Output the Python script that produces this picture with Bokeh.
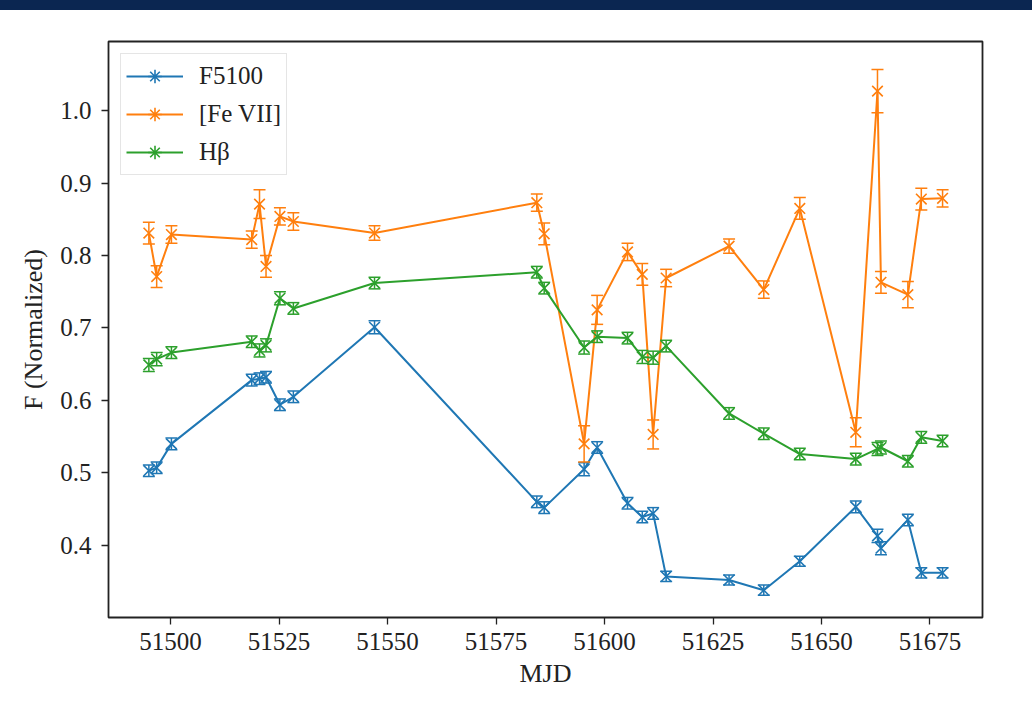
from bokeh.plotting import figure
from bokeh.models import (ColumnDataSource, FixedTicker, PrintfTickFormatter, Legend,
                          LegendItem, Div, Range1d)
from bokeh.layouts import column
from bokeh.embed import file_html
from bokeh.resources import INLINE

# ---- data ----
mjd = [51495.0, 51496.8, 51500.2, 51518.7, 51520.5, 51522.0, 51525.2, 51528.3, 51547.0,
       51584.4, 51586.1, 51595.3, 51598.3, 51605.3, 51608.7, 51611.2, 51614.2, 51628.7,
       51636.7, 51645.0, 51657.9, 51662.9, 51663.7, 51669.9, 51673.0, 51677.9]
f5100 = [0.503, 0.507, 0.540, 0.628, 0.630, 0.632, 0.594, 0.605, 0.701,
         0.460, 0.452, 0.505, 0.535, 0.458, 0.439, 0.444, 0.357, 0.352,
         0.338, 0.378, 0.453, 0.413, 0.396, 0.435, 0.362, 0.362]
f5100_err = [0.008, 0.008, 0.008, 0.008, 0.008, 0.008, 0.008, 0.008, 0.009,
             0.008, 0.008, 0.009, 0.008, 0.008, 0.008, 0.008, 0.007, 0.007,
             0.007, 0.007, 0.008, 0.009, 0.009, 0.008, 0.007, 0.007]
fe7 = [0.831, 0.771, 0.829, 0.822, 0.871, 0.785, 0.854, 0.847, 0.831,
       0.873, 0.830, 0.540, 0.725, 0.805, 0.774, 0.553, 0.769, 0.813,
       0.753, 0.865, 0.556, 1.027, 0.763, 0.746, 0.878, 0.879]
fe7_err = [0.015, 0.015, 0.012, 0.012, 0.020, 0.015, 0.012, 0.012, 0.010,
           0.012, 0.015, 0.025, 0.020, 0.012, 0.015, 0.020, 0.012, 0.010,
           0.012, 0.015, 0.020, 0.030, 0.015, 0.018, 0.015, 0.012]
hbeta = [0.649, 0.657, 0.666, 0.681, 0.669, 0.676, 0.741, 0.727, 0.762,
         0.777, 0.755, 0.673, 0.688, 0.686, 0.660, 0.659, 0.675, 0.582,
         0.554, 0.526, 0.519, 0.533, 0.535, 0.516, 0.549, 0.544]
hbeta_err = [0.009, 0.009, 0.008, 0.008, 0.009, 0.009, 0.009, 0.008, 0.008,
             0.008, 0.008, 0.009, 0.008, 0.008, 0.009, 0.009, 0.008, 0.008,
             0.008, 0.008, 0.008, 0.009, 0.009, 0.008, 0.008, 0.008]

series = [("F5100", f5100, f5100_err, "#1f77b4"),
          ("[Fe VII]", fe7, fe7_err, "#ff7f0e"),
          ("H\u03b2", hbeta, hbeta_err, "#2ca02c")]

x_ticks = [51500, 51525, 51550, 51575, 51600, 51625, 51650, 51675]
y_ticks = [0.4, 0.5, 0.6, 0.7, 0.8, 0.9, 1.0]

FONT = "Liberation Serif"

p = figure(width=1032, height=718, output_backend="svg", toolbar_location=None,
           x_range=Range1d(51485.7, 51687.1), y_range=Range1d(0.3003, 1.0955),
           min_border_left=108, min_border_right=50, min_border_top=31, min_border_bottom=111)
p.background_fill_color = "white"
p.border_fill_color = "white"
p.grid.visible = False
p.outline_line_color = "#222222"
p.outline_line_width = 1.8

for ax in (p.xaxis[0], p.yaxis[0]):
    ax.axis_line_color = None
    ax.major_tick_in = 0
    ax.major_tick_out = 7
    ax.major_tick_line_color = "#222222"
    ax.major_tick_line_width = 1.3
    ax.minor_tick_line_color = None
    ax.major_label_text_font = FONT
    ax.major_label_text_font_size = "25px"
    ax.major_label_text_color = "#222222"
    ax.axis_label_text_font = FONT
    ax.axis_label_text_font_size = "26px"
    ax.axis_label_text_font_style = "normal"
    ax.axis_label_text_color = "#222222"

p.xaxis.ticker = FixedTicker(ticks=x_ticks)
p.xaxis.formatter = PrintfTickFormatter(format="%d")
p.yaxis.ticker = FixedTicker(ticks=y_ticks)
p.yaxis.formatter = PrintfTickFormatter(format="%.1f")
p.xaxis.axis_label = "MJD"
p.yaxis.axis_label = "F (Normalized)"
p.xaxis.major_label_standoff = 8
p.xaxis.axis_label_standoff = 6
p.yaxis.major_label_standoff = 10
p.yaxis.axis_label_standoff = 9

items = []
for name, vals, errs, color in series:
    lo = [v - e for v, e in zip(vals, errs)]
    hi = [v + e for v, e in zip(vals, errs)]
    src = ColumnDataSource(dict(x=mjd, y=vals, lo=lo, hi=hi))
    line = p.line("x", "y", source=src, line_color=color, line_width=2)
    p.segment(x0="x", y0="lo", x1="x", y1="hi", source=src, line_color=color, line_width=1.5)
    p.scatter("x", "lo", source=src, marker="dash", size=12, line_color=color, line_width=1.5)
    p.scatter("x", "hi", source=src, marker="dash", size=12, line_color=color, line_width=1.5)
    p.scatter("x", "y", source=src, marker="x", size=15, line_color=color, line_width=1.6)
    # legend sample (errorbar look: cross with vertical bar), hidden from the plot area
    leg_mark = p.scatter("x", "y", source=src, marker="asterisk", size=16,
                         line_color=color, line_width=1.6, visible=False)
    items.append(LegendItem(label=name, renderers=[line, leg_mark]))

legend = Legend(items=items, location="top_left")
legend.click_policy = "none"
legend.margin = 12
legend.padding = 5
legend.spacing = 4
legend.glyph_width = 57
legend.glyph_height = 34
legend.label_height = 34
legend.label_standoff = 16
legend.label_text_font = FONT
legend.label_text_font_size = "25px"
legend.label_text_color = "#222222"
legend.border_line_color = "#cccccc"
legend.border_line_width = 1.2
legend.background_fill_alpha = 0.9
p.add_layout(legend)

bar = Div(text="", width=1032, height=10, margin=0,
          styles={"background-color": "#0b2651", "width": "1032px", "height": "10px"})

layout = column(bar, p, spacing=0, margin=0)
open("out.html", "w").write(file_html(layout, INLINE))
